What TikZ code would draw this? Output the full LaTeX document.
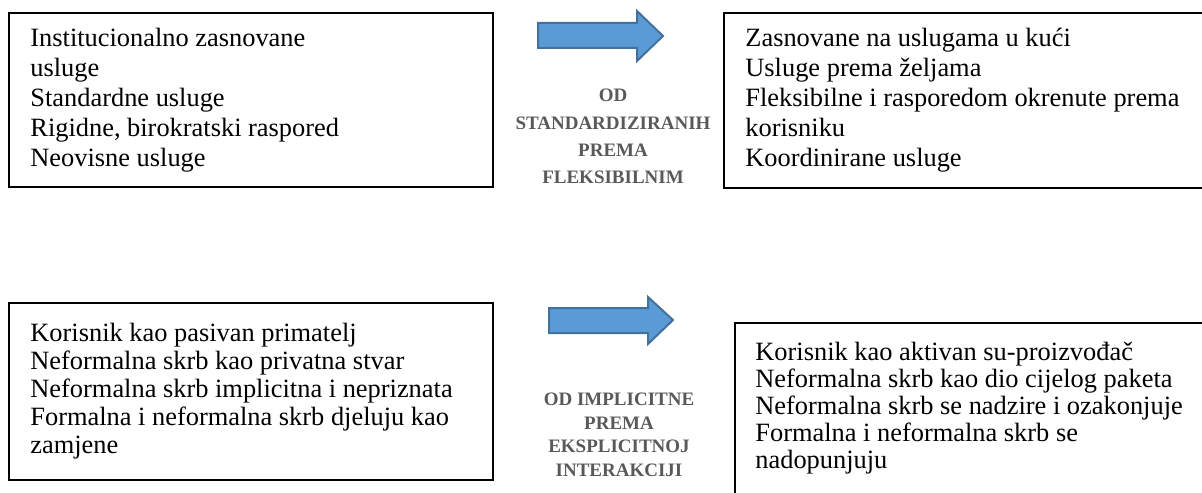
\documentclass[tikz,border=0pt]{standalone}
\usepackage{fontspec}
\setmainfont{Liberation Serif}
\definecolor{plava}{RGB}{91,155,213}
\definecolor{plavarub}{RGB}{65,113,156}
\definecolor{siva}{RGB}{89,89,89}
\begin{document}
\begin{tikzpicture}[x=0.5pt,y=-0.5pt,
    okvir/.style={line width=1pt},
    tekst/.style={anchor=north west,inner sep=0pt,align=left},
    oznaka/.style={anchor=north,inner sep=0pt,align=center,text=siva},
    strelica/.style={fill=plava,draw=plavarub,line width=1pt,line join=miter}]
    \useasboundingbox (0,0) rectangle (1202,492);

    % 上面两个方框
    \draw[okvir] (9,13) rectangle (493,187);
    \draw[okvir] (724,13) rectangle (1215,188);

    % 下面两个方框 (右边的超出下边)
    \draw[okvir] (9,303) rectangle (493,480);
    \draw[okvir] (735,323) rectangle (1215,505);

    % 方框里的文字
    \node[tekst,font=\fontsize{13.2}{15}\selectfont] (ulijevo) at (30,28)
        {Institucionalno zasnovane\\usluge\\Standardne usluge\\Rigidne, birokratski raspored\\Neovisne usluge};
    \node[tekst,font=\fontsize{13.2}{15}\selectfont] (udesno) at (745,28)
        {Zasnovane na uslugama u kući\\Usluge prema željama\\Fleksibilne i rasporedom okrenute prema\\korisniku\\Koordinirane usluge};
    \node[tekst,font=\fontsize{13.2}{14}\selectfont] (dlijevo) at (30,323)
        {Korisnik kao pasivan primatelj\\Neformalna skrb kao privatna stvar\\Neformalna skrb implicitna i nepriznata\\Formalna i neformalna skrb djeluju kao\\zamjene};
    \node[tekst,font=\fontsize{13.2}{13.5}\selectfont] (ddesno) at (755,342)
        {Korisnik kao aktivan su-proizvođač\\Neformalna skrb kao dio cijelog paketa\\Neformalna skrb se nadzire i ozakonjuje\\Formalna i neformalna skrb se\\nadopunjuju};

    % 两个蓝色箭头
    \draw[strelica] (538,23) -- (637,23) -- (637,11) -- (663,36) -- (637,61) -- (637,48) -- (538,48) -- cycle;
    \draw[strelica] (549,308) -- (648,308) -- (648,297) -- (673,320) -- (648,344) -- (648,333) -- (549,333) -- cycle;

    % 箭头下面的灰色字
    \node[oznaka,font=\fontsize{9.5}{13.6}\selectfont\bfseries] (ogore) at (613,89)
        {OD\\STANDARDIZIRANIH\\PREMA\\FLEKSIBILNIM};
    \node[oznaka,font=\fontsize{9.5}{11.7}\selectfont\bfseries] (odolje) at (619,393)
        {OD IMPLICITNE\\PREMA\\EKSPLICITNOJ\\INTERAKCIJI};
\end{tikzpicture}
\end{document}
